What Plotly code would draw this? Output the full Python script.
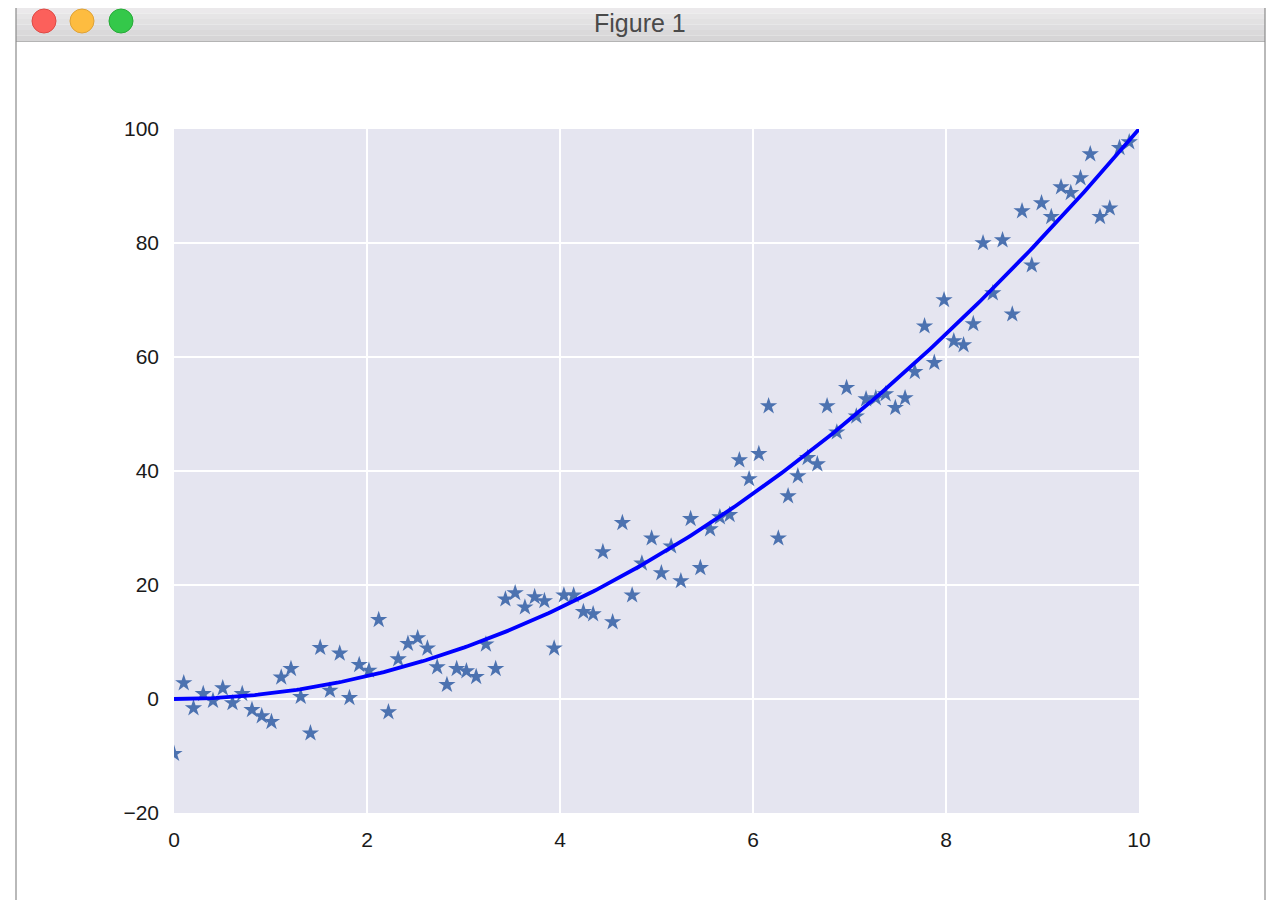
import numpy as np
import plotly.graph_objects as go

# ---- data ----
y_points = [
    -9.6, 2.8, -1.6, 0.9, -0.3, 1.9, -0.7, 0.9, -1.9, -3.0,
    -4.0, 3.8, 5.3, 0.4, -6.0, 9.0, 1.5, 8.0, 0.2, 6.0,
    5.0, 13.9, -2.3, 7.0, 9.7, 10.7, 8.9, 5.6, 2.5, 5.3,
    4.9, 3.9, 9.6, 5.3, 17.5, 18.6, 16.1, 17.9, 17.2, 8.9,
    18.2, 18.2, 15.3, 14.9, 25.8, 13.5, 30.9, 18.2, 23.8, 28.2,
    22.1, 26.8, 20.7, 31.6, 23.0, 29.8, 31.9, 32.3, 41.9, 38.6,
    43.0, 51.4, 28.2, 35.6, 39.1, 42.3, 41.2, 51.4, 46.8, 54.6,
    49.6, 52.6, 52.8, 53.5, 51.1, 52.8, 57.4, 65.4, 59.0, 70.0,
    62.8, 62.1, 65.8, 80.0, 71.2, 80.5, 67.5, 85.6, 76.1, 87.0,
    84.6, 89.8, 88.8, 91.4, 95.6, 84.6, 86.1, 96.7, 97.7,
]
x_start, x_stop, n_samples = 0.0, 10.0, 100
x_points = list(np.linspace(x_start, x_stop, n_samples)[:len(y_points)])

fit_coeffs = [1.0, 0.0, 0.0]  # fitted quadratic y = x^2
x_fit = np.linspace(x_start, x_stop, 300)
y_fit = np.polyval(fit_coeffs, x_fit)

x_ticks = [0, 2, 4, 6, 8, 10]
y_ticks = [-20, 0, 20, 40, 60, 80, 100]
window_title = "Figure 1"

# ---- layout geometry (pixels, in reference screen coords) ----
OFF = 8  # page body margin
W, H = 1281 - OFF, 900 - OFF
L, R, T, B = 174, 1139, 129, 813


def px(xp):
    return (xp - L) / (R - L)


def py(yp):
    return (B - yp) / (B - T)


fig = go.Figure()
fig.add_trace(go.Scatter(
    x=x_points, y=y_points, mode="markers",
    marker=dict(symbol="star", size=13, color="#4c72b0", line=dict(width=0)),
    showlegend=False, hoverinfo="skip",
))
fig.add_trace(go.Scatter(
    x=x_fit, y=y_fit, mode="lines",
    line=dict(color="#0000ff", width=3.8),
    showlegend=False, hoverinfo="skip",
))

shapes = []
# title bar gradient
bands = ["#ebe9eb", "#e6e5e6", "#e2e1e2", "#dedddf", "#dad9da", "#d6d5d6"]
top, bottom = OFF, 41
step = (bottom - top) / len(bands)
for i, c in enumerate(bands):
    shapes.append(dict(type="rect", xref="paper", yref="paper",
                       x0=px(16), x1=px(1265),
                       y0=py(top + (i + 1) * step), y1=py(top + i * step),
                       fillcolor=c, line=dict(width=0), layer="above"))
shapes.append(dict(type="line", xref="paper", yref="paper",
                   x0=px(16), x1=px(1265), y0=py(41.5), y1=py(41.5),
                   line=dict(color="#b4b4b4", width=1), layer="above"))
# window side borders
for xb in (16, 1265):
    shapes.append(dict(type="line", xref="paper", yref="paper",
                       x0=px(xb), x1=px(xb), y0=py(OFF), y1=py(900),
                       line=dict(color="#8a8a8a", width=1.2), layer="above"))
# traffic lights
for cx, fill, edge in ((44, "#fc605b", "#de4a45"), (82, "#fdbc40", "#dea236"), (121, "#34c84a", "#27aa38")):
    r = 12
    shapes.append(dict(type="circle", xref="paper", yref="paper",
                       x0=px(cx - r), x1=px(cx + r), y0=py(21 + r), y1=py(21 - r),
                       fillcolor=fill, line=dict(color=edge, width=1), layer="above"))

fig.update_layout(
    width=W, height=H, autosize=False,
    margin=dict(l=L - OFF, r=1281 - R, t=T - OFF, b=900 - B, pad=0),
    paper_bgcolor="white", plot_bgcolor="#e5e5f0",
    font=dict(family="Liberation Sans, Arial, Helvetica, sans-serif", size=21, color="#1a1a1a"),
    shapes=shapes,
    annotations=[dict(text=window_title, xref="paper", yref="paper",
                      x=px(640), y=py(23), showarrow=False, borderpad=0,
                      font=dict(size=25, color="#4a4a4a",
                                family="Liberation Sans, Arial, Helvetica, sans-serif"),
                      xanchor="center", yanchor="middle")],
    xaxis=dict(range=[x_start, x_stop], tickvals=x_ticks, showgrid=True,
               gridcolor="white", gridwidth=2, zeroline=False, showline=False,
               ticks="", ticklabelstandoff=12),
    yaxis=dict(range=[-20, 100], tickvals=y_ticks, showgrid=True,
               gridcolor="white", gridwidth=2, zeroline=False, showline=False,
               ticks="", ticklabelstandoff=14),
)

fig.write_html("out.html")
